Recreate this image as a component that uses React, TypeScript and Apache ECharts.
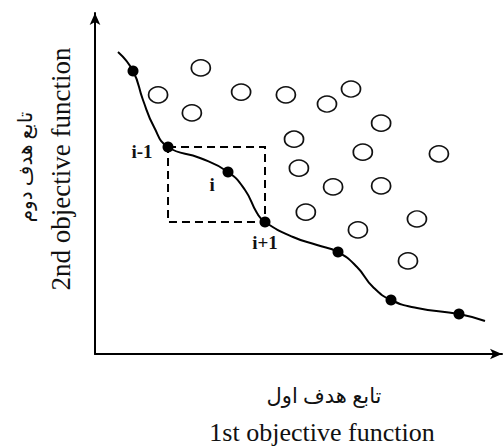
import React, { useEffect, useRef } from "react";
import * as echarts from "echarts";

// Pareto front curve (objective 1, objective 2), in chart units 0..100
const curveX = [5.65, 9.34, 11.79, 14.5, 17.94, 25.8, 32.68, 36.86, 39.8, 41.77, 48.65, 54.55, 59.71, 64.37, 68.3, 72.73, 79.12, 89.43, 95.82];
const curveY = [88.56, 82.99, 74.49, 66.57, 60.7, 57.48, 53.37, 48.09, 41.35, 38.71, 34.31, 31.96, 29.91, 25.51, 19.65, 15.84, 13.49, 11.73, 9.68];

// Non-dominated solutions (filled dots)
const paretoX = [9.34, 17.94, 32.68, 41.77, 59.71, 72.73, 89.43];
const paretoY = [82.99, 60.7, 53.37, 38.71, 29.91, 15.84, 11.73];
const paretoNames = ["", "i-1", "i", "i+1", "", "", ""];

// Dominated solutions (open circles)
const domX = [26.0, 15.5, 23.8, 35.9, 46.9, 57.0, 62.9, 70.3, 48.9, 65.8, 84.5, 50.1, 58.5, 70.3, 51.8, 79.1, 64.6, 76.9];
const domY = [83.9, 76.0, 70.7, 76.8, 76.0, 73.3, 77.7, 67.7, 63.0, 59.2, 58.7, 54.5, 49.0, 49.3, 41.6, 39.6, 36.4, 27.3];

const xTitleFa = "تابع هدف اول";
const xTitleEn = "1st objective function";
const yTitleFa = "تابع هدف دوم";
const yTitleEn = "2nd objective function";

const serif = "'Liberation Serif', 'Times New Roman', serif";
const faFont = "'Liberation Serif', 'DejaVu Sans', sans-serif";

export default function App() {
  const ref = useRef<HTMLDivElement>(null);
  useEffect(() => {
    if (!ref.current) return;
    const chart = echarts.init(ref.current, undefined, { renderer: "svg" });
    const labelPos: Record<string, any> = {
      "i-1": { position: "left", distance: 10, offset: [0, 4] },
      i: { position: [-13, 8] },
      "i+1": { position: "bottom", distance: 6 },
    };
    const axisCommon = {
      type: "value",
      min: 0,
      max: 100,
      axisLine: {
        show: true,
        symbol: ["none", "arrow"],
        symbolSize: [8, 12],
        lineStyle: { color: "#000", width: 2 },
      },
      axisTick: { show: false },
      axisLabel: { show: false },
      splitLine: { show: false },
    };
    chart.setOption({
      animation: false,
      backgroundColor: "#fff",
      grid: { left: 95, right: 1, top: 13, bottom: 94 },
      xAxis: { ...axisCommon },
      yAxis: { ...axisCommon },
      series: [
        {
          type: "line",
          data: curveX.map((x, i) => [x, curveY[i]]),
          smooth: 0.5,
          showSymbol: false,
          lineStyle: { color: "#000", width: 2 },
          z: 2,
        },
        {
          type: "scatter",
          data: domX.map((x, i) => [x, domY[i]]),
          symbol: "circle",
          symbolSize: [19, 16],
          itemStyle: { color: "#fff", borderColor: "#111", borderWidth: 1.6, opacity: 1 },
          z: 3,
        },
        {
          type: "scatter",
          data: paretoX.map((x, i) => {
            const n = paretoNames[i];
            const item: any = { value: [x, paretoY[i]], name: n };
            if (n) {
              item.label = {
                show: true,
                formatter: n,
                fontFamily: serif,
                fontWeight: "bold",
                fontSize: 19,
                color: "#111",
                ...labelPos[n],
              };
            }
            return item;
          }),
          symbol: "circle",
          symbolSize: 11,
          itemStyle: { color: "#000", opacity: 1 },
          z: 4,
          markArea: {
            silent: true,
            itemStyle: {
              color: "rgba(0,0,0,0)",
              borderColor: "#000",
              borderWidth: 2,
              borderType: [8, 5],
            },
            data: [[{ coord: [paretoX[1], paretoY[1]] }, { coord: [paretoX[3], paretoY[3]] }]],
          },
        },
      ],
      graphic: [
        {
          type: "text",
          x: 324,
          y: 396,
          style: { text: xTitleFa, font: `21px ${faFont}`, fill: "#111", align: "center", verticalAlign: "middle" },
        },
        {
          type: "text",
          x: 322,
          y: 432,
          style: { text: xTitleEn, font: `26px ${serif}`, fill: "#111", align: "center", verticalAlign: "middle" },
        },
        {
          type: "text",
          x: 25,
          y: 167,
          rotation: Math.PI / 2,
          style: { text: yTitleFa, font: `20px ${faFont}`, fill: "#111", align: "center", verticalAlign: "middle" },
        },
        {
          type: "text",
          x: 61,
          y: 169,
          rotation: Math.PI / 2,
          style: { text: yTitleEn, font: `27px ${serif}`, fill: "#111", align: "center", verticalAlign: "middle" },
        },
      ],
    });
    return () => chart.dispose();
  }, []);
  return <div ref={ref} style={{ width: 503, height: 448, position: "absolute", left: 0, top: 0 }} />;
}
